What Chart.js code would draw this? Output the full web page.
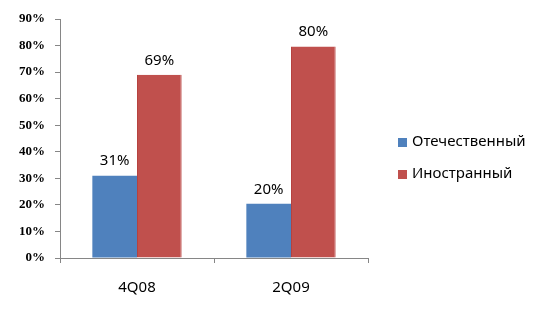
<!DOCTYPE html>
<html>
<head>
<meta charset="utf-8">
<script src="https://cdn.jsdelivr.net/npm/chart.js@4/dist/chart.umd.min.js"></script>
<style>
  html, body { margin: 0; padding: 0; background: #fff; }
  #wrap { width: 550px; height: 318px; }
</style>
</head>
<body>
<div id="wrap"><canvas id="myChart" width="550" height="318"></canvas></div>
<script>
'use strict';

let categories = ['4Q08', '2Q09'];
let seriesNames = ['Отечественный', 'Иностранный'];
let domestic = [31, 20.4];
let foreign = [69, 79.6];
let yTicks = [0, 10, 20, 30, 40, 50, 60, 70, 80, 90];

let colors = ['#4F81BD', '#C0504D'];
let labelFont = '15px "Noto Sans", sans-serif';

// value labels over every bar
let barLabels = {
  id: 'barLabels',
  afterDatasetsDraw(chart) {
    let ctx = chart.ctx;
    ctx.save();
    ctx.font = labelFont;
    ctx.fillStyle = '#000';
    ctx.textAlign = 'center';
    ctx.textBaseline = 'bottom';
    chart.data.datasets.forEach(function (ds, i) {
      chart.getDatasetMeta(i).data.forEach(function (bar, j) {
        ctx.fillText(Math.round(ds.data[j]) + '%', bar.x, bar.y - 7);
      });
    });
    ctx.restore();
  }
};

// legend on the right, drawn by hand
let sideLegend = {
  id: 'sideLegend',
  afterDraw(chart) {
    let ctx = chart.ctx;
    ctx.save();
    ctx.font = labelFont;
    ctx.textBaseline = 'middle';
    ctx.textAlign = 'left';
    let rows = [142, 174];
    chart.data.datasets.forEach(function (ds, i) {
      ctx.fillStyle = ds.backgroundColor;
      ctx.fillRect(398, rows[i] - 4, 9, 9);
      ctx.fillStyle = '#000';
      ctx.fillText(ds.label, 412, rows[i]);
    });
    ctx.restore();
  }
};

let ctx = document.getElementById('myChart').getContext('2d');
let myChart = new Chart(ctx, {
  type: 'bar',
  data: {
    labels: categories,
    datasets: [{
      label: seriesNames[0],
      data: domestic,
      backgroundColor: colors[0],
      categoryPercentage: 0.58,
      barPercentage: 1
    }, {
      label: seriesNames[1],
      data: foreign,
      backgroundColor: colors[1],
      borderColor: '#B6423F',
      borderWidth: { left: 1, right: 1, top: 0, bottom: 0 },
      categoryPercentage: 0.58,
      barPercentage: 1
    }]
  },
  options: {
    responsive: false,
    animation: false,
    layout: { padding: { left: 0, right: 182, top: 19, bottom: 0 } },
    plugins: {
      legend: { display: false },
      tooltip: { enabled: false }
    },
    scales: {
      x: {
        grid: { drawOnChartArea: false, color: '#868686', tickLength: 5 },
        border: { color: '#868686' },
        ticks: { color: '#000', font: { family: 'Noto Sans', size: 15 }, padding: 16 },
        afterFit(axis) { axis.height = 60; }
      },
      y: {
        min: 0,
        max: 90,
        afterBuildTicks(axis) { axis.ticks = yTicks.map(v => ({ value: v })); },
        grid: { drawOnChartArea: false, color: '#868686', tickLength: 5 },
        border: { color: '#868686' },
        ticks: {
          color: '#000',
          font: { family: 'Liberation Serif', size: 13, weight: 'bold' },
          padding: 10,
          callback: v => v + '%'
        },
        afterFit(axis) { axis.width = 60; }
      }
    }
  },
  plugins: [barLabels, sideLegend]
});
</script>
</body>
</html>
